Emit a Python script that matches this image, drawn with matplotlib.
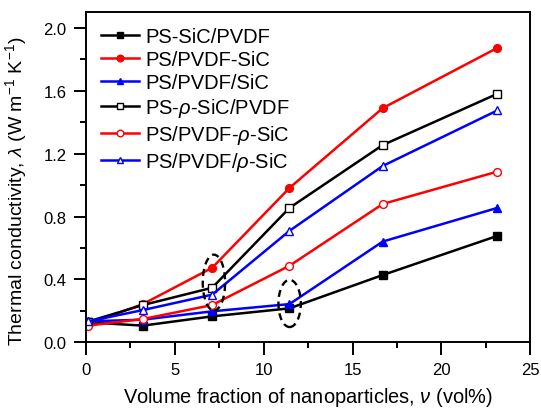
import matplotlib
matplotlib.use('Agg')
import matplotlib.pyplot as plt
from matplotlib.patches import Ellipse
from matplotlib.ticker import MultipleLocator, FormatStrFormatter

plt.rcParams['font.family'] = ['Liberation Sans', 'DejaVu Sans']
plt.rcParams['mathtext.fontset'] = 'custom'
plt.rcParams['mathtext.rm'] = 'Liberation Sans'
plt.rcParams['mathtext.it'] = 'Liberation Sans:italic'

# filler volume fraction (vol%)
vol = [0.1, 3.2, 7.1, 11.45, 16.7, 23.15]

ps_sic_pvdf = [0.127, 0.106, 0.165, 0.216, 0.428, 0.677]
ps_pvdf_sic = [0.116, 0.243, 0.474, 0.982, 1.490, 1.873]
ps_pvdf_slash_sic = [0.133, 0.144, 0.197, 0.243, 0.641, 0.855]
ps_psic_pvdf = [0.131, 0.237, 0.347, 0.855, 1.255, 1.581]
ps_pvdf_psic = [0.106, 0.148, 0.237, 0.487, 0.880, 1.086]
ps_pvdf_slash_psic = [0.133, 0.205, 0.303, 0.709, 1.122, 1.475]

labels = ['PS-SiC/PVDF', 'PS/PVDF-SiC', 'PS/PVDF/SiC',
          r'PS-$\rho$-SiC/PVDF', r'PS/PVDF-$\rho$-SiC', r'PS/PVDF/$\rho$-SiC']

fig = plt.figure(figsize=(5.41, 4.10), dpi=100)
ax = fig.add_axes([0.159, 0.1627, 0.821, 0.805])

series = [
    (ps_sic_pvdf, 'black', 's', True),
    (ps_pvdf_sic, 'red', 'o', True),
    (ps_pvdf_slash_sic, 'blue', '^', True),
    (ps_psic_pvdf, 'black', 's', False),
    (ps_pvdf_psic, 'red', 'o', False),
    (ps_pvdf_slash_psic, 'blue', '^', False),
]
for (vals, col, mk, filled), lab in zip(series, labels):
    ax.plot(vol, vals, color=col, marker=mk, lw=1.8, ms=5.6,
            mfc=col if filled else 'white', mec=col, mew=1.0, label=lab)

# dashed rings around the crossing points
for cx, cy, w, h in [(7.2, 0.38, 1.26, 0.355), (11.46, 0.247, 1.26, 0.30)]:
    ax.add_patch(Ellipse((cx, cy), w, h, fill=False, ls=(0, (3, 2)),
                         lw=1.7, ec='black', zorder=5))

ax.set_xlim(0, 25)
ax.set_ylim(0, 2.1)
ax.xaxis.set_major_locator(MultipleLocator(5))
ax.xaxis.set_minor_locator(MultipleLocator(2.5))
ax.yaxis.set_major_locator(MultipleLocator(0.4))
ax.yaxis.set_minor_locator(MultipleLocator(0.2))
ax.yaxis.set_major_formatter(FormatStrFormatter('%.1f'))
ax.tick_params(which='major', direction='out', length=9, width=1.4,
               labelsize=12, pad=5)
ax.tick_params(which='minor', direction='out', length=4.5, width=1.4)
for sp in ax.spines.values():
    sp.set_linewidth(1.4)

ax.set_xlabel(r'Volume fraction of nanoparticles, $\nu$ (vol%)',
              fontsize=14.4, labelpad=6)
ax.set_ylabel(r'Thermal conductivity, $\lambda$ (W m$^{-1}$ K$^{-1}$)',
              fontsize=14)
ax.yaxis.set_label_coords(-0.128, 0.46)

leg = ax.legend(loc='upper left', frameon=False, fontsize=14.5, numpoints=1,
                handlelength=1.9, labelspacing=0.2, handletextpad=0.3,
                borderaxespad=0.6, borderpad=0.15, markerscale=0.85)

fig.savefig('out.png', dpi=100)
